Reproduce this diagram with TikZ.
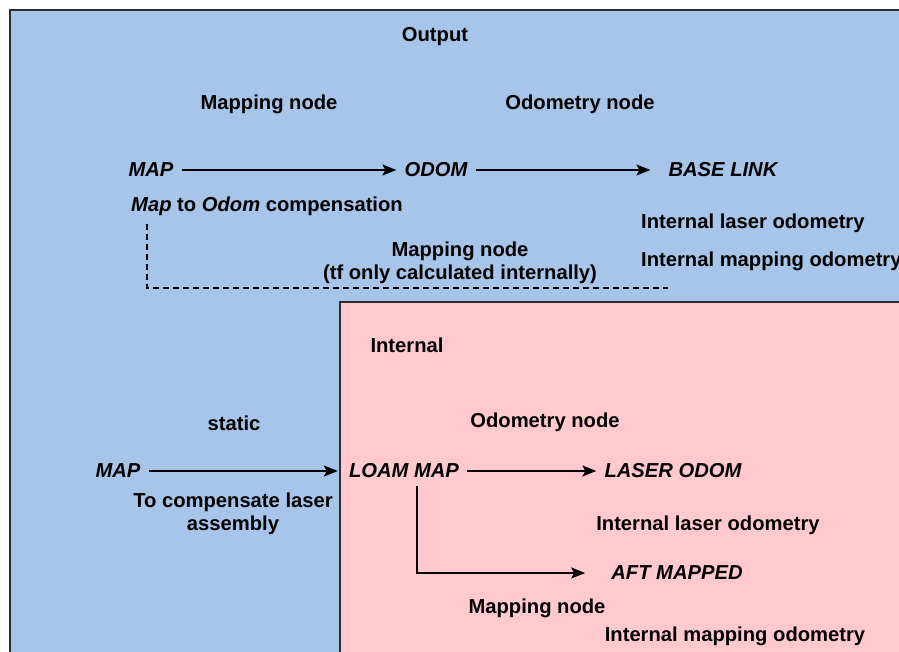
\documentclass[tikz,border=0pt]{standalone}
\usepackage{fontspec}
\setmainfont{Liberation Sans}
\usetikzlibrary{arrows.meta, positioning}

\definecolor{outblue}{RGB}{166,197,232}
\definecolor{intpink}{RGB}{255,201,206}
\definecolor{frameline}{RGB}{45,45,45}

\begin{document}
\begin{tikzpicture}[
    x=1pt, y=-1pt,
    every node/.style={font=\fontsize{20.2}{22.5}\selectfont\bfseries},
    lbl/.style={align=center, inner sep=0pt},
    tfnode/.style={font=\fontsize{20.2}{22.5}\selectfont\bfseries\itshape, inner sep=8pt},
    frame/.style={draw=frameline, line width=1.5pt},
    link/.style={->, line width=1.4pt},
    >={Stealth[length=14pt, width=11pt, inset=3pt]}
]

\useasboundingbox (0,0) rectangle (899,651);
\clip (0,0) rectangle (899,651);

% output frame
\draw[frame, fill=outblue] (10,10) rectangle (920,670);

\node[lbl] (out) at (435,37) {Output};
\node[lbl] (mapnode) at (269,104) {Mapping node};
\node[lbl] (odomnode) at (580,104) {Odometry node};

\node[tfnode] (map) at (151,170) {MAP};
\node[tfnode] (odom) at (436,170) {ODOM};
\node[tfnode] (base) at (723,170) {BASE LINK};

\draw[link] (map) -- (odom);
\draw[link, shorten >=10pt] (odom) -- (base);

\node[lbl, anchor=west] (comp) at (131,206) {\textit{Map} to \textit{Odom} compensation};
\node[lbl, anchor=west] (intlaser) at (641,223) {Internal laser odometry};
\node[lbl, anchor=west] (intmap) at (641,261) {Internal mapping odometry};
\node[lbl] (mapint) at (460,263) {Mapping node\\(tf only calculated internally)};

\coordinate (dashend) at (668,288);
\draw[dash pattern=on 6pt off 4pt, line width=1.2pt]
    ([xshift=16pt, yshift=-8pt]comp.south west) |- (dashend);

% internal frame
\draw[frame, fill=intpink] (340,302) rectangle (920,670);

\node[lbl] (internal) at (407,345) {Internal};
\node[lbl] (static) at (234,423) {static};
\node[lbl] (odomnode2) at (545,422) {Odometry node};

\node[tfnode] (map2) at (118,471) {MAP};
\node[tfnode] (loam) at (404,471) {LOAM MAP};
\node[tfnode] (laser) at (673,471) {LASER ODOM};
\node[tfnode] (aft) at (677,573) {AFT MAPPED};

\draw[link, shorten >=3pt] (map2) -- (loam);
\draw[link] (loam) -- (laser);
\draw[link, shorten >=18pt] ([xshift=13pt]loam.south) |- (aft.west);

\node[lbl] (comp2) at (233,514) {To compensate laser\\assembly};
\node[lbl] (intlaser2) at (708,525) {Internal laser odometry};
\node[lbl] (mapnode2) at (537,608) {Mapping node};
\node[lbl] (intmap2) at (735,636) {Internal mapping odometry};

\end{tikzpicture}
\end{document}
